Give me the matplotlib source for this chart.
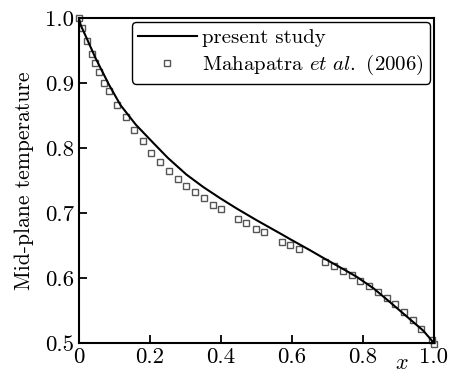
import numpy as np
import matplotlib
matplotlib.use('Agg')
import matplotlib.pyplot as plt
from matplotlib import rcParams

rcParams.update({'font.family': 'serif', 'font.serif': ['cmr10'],
                 'mathtext.fontset': 'cm', 'axes.unicode_minus': False,
                 'axes.formatter.use_mathtext': True})

# present study (solid curve)
x_present = [0, 0.005, 0.02, 0.047, 0.085, 0.117, 0.16, 0.209, 0.25, 0.303,
             0.35, 0.397, 0.444, 0.5, 0.575, 0.594, 0.65, 0.688, 0.75, 0.782,
             0.83, 0.876, 0.923, 0.97, 1.0]
t_present = [1.0, 0.989, 0.971, 0.938, 0.897, 0.866, 0.836, 0.808, 0.785, 0.759,
             0.740, 0.723, 0.707, 0.689, 0.666, 0.660, 0.643, 0.631, 0.612, 0.602,
             0.584, 0.563, 0.541, 0.519, 0.5]

# Mahapatra et al. (2006) (squares)
x_ref = [0, 0.008, 0.022, 0.036, 0.045, 0.056, 0.071, 0.085, 0.106, 0.132,
         0.156, 0.181, 0.203, 0.228, 0.254, 0.279, 0.303, 0.327, 0.352, 0.377,
         0.399, 0.448, 0.472, 0.499, 0.522, 0.572, 0.596, 0.619, 0.693, 0.718,
         0.743, 0.768, 0.793, 0.818, 0.843, 0.867, 0.891, 0.916, 0.940, 0.965,
         0.996, 1.0]
t_ref = [1.0, 0.984, 0.965, 0.945, 0.930, 0.917, 0.900, 0.888, 0.866, 0.847,
         0.827, 0.810, 0.793, 0.778, 0.765, 0.753, 0.742, 0.732, 0.723, 0.713,
         0.706, 0.691, 0.684, 0.676, 0.670, 0.656, 0.651, 0.645, 0.625, 0.618,
         0.611, 0.604, 0.596, 0.588, 0.578, 0.569, 0.560, 0.547, 0.536, 0.521,
         0.505, 0.498]

xticks = [0, 0.2, 0.4, 0.6, 0.8, 1.0]
xticklabels = ['0', '0.2', '0.4', '0.6', '0.8', '1.0']
yticks = [0.5, 0.6, 0.7, 0.8, 0.9, 1.0]
yticklabels = ['0.5', '0.6', '0.7', '0.8', '0.9', '1.0']

fig = plt.figure(figsize=(4.51, 3.74), dpi=100)
ax = fig.add_axes([0.175, 0.083, 0.787, 0.869])

ax.plot(x_present, t_present, '-', color='k', lw=1.5, label='present study', zorder=3)
ax.plot(x_ref, t_ref, 's', mfc='none', mec='#555555', mew=1.0, ms=4.7,
        label=r'Mahapatra $\mathit{et\ al.}$ (2006)', zorder=2, clip_on=False)

ax.set_xlim(0, 1.0)
ax.set_ylim(0.5, 1.0)
ax.set_xticks(xticks)
ax.set_xticklabels(xticklabels)
ax.set_yticks(yticks)
ax.set_yticklabels(yticklabels)
ax.tick_params(direction='in', length=6, width=1.3, labelsize=16.5, pad=3.5,
               top=False, right=False)
for s in ax.spines.values():
    s.set_linewidth(1.5)

ax.set_ylabel('Mid-plane temperature', fontsize=15.5, labelpad=8)
ax.text(0.909, -0.062, '$x$', transform=ax.transAxes, fontsize=16,
        ha='center', va='center')

leg = ax.legend(loc='upper right', fontsize=15, handlelength=2.8,
                borderaxespad=0.2, borderpad=0.3, fancybox=True, framealpha=1,
                edgecolor='k', labelspacing=0.3, handletextpad=0.25)
leg.get_frame().set_linewidth(1.0)

fig.savefig('out.png', dpi=100)
